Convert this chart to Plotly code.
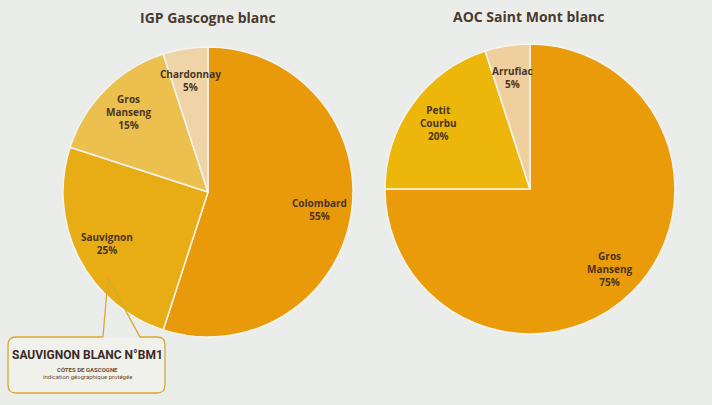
import math
import plotly.graph_objects as go

W, H = 712, 405

# Data
igp_labels = ["Colombard", "Sauvignon", "Gros<br>Manseng", "Chardonnay"]
igp_values = [55, 25, 15, 5]
igp_colors = ["#E89A0A", "#E8AD14", "#EBC04F", "#EFD4A8"]

aoc_labels = ["Gros<br>Manseng", "Petit<br>Courbu", "Arrufiac"]
aoc_values = [75, 20, 5]
aoc_colors = ["#E99B0A", "#EDB60A", "#F0CF9E"]

titles = ["IGP Gascogne blanc", "AOC Saint Mont blanc"]

def px(x):
    return x / W

def py(y):
    return 1 - y / H

def dom(cx, cy, r):
    return dict(x=[px(cx - r), px(cx + r)], y=[py(cy + r), py(cy - r)])

PIES = [
    dict(labels=igp_labels, values=igp_values, colors=igp_colors, cx=208, cy=192, r=145),
    dict(labels=aoc_labels, values=aoc_values, colors=aoc_colors, cx=530, cy=189, r=145),
]

fig = go.Figure()
annotations = []
label_font = dict(family="Open Sans, Lato, sans-serif", size=10, color="#4A3522", weight="bold")

for p in PIES:
    fig.add_trace(go.Pie(
        labels=p["labels"], values=p["values"], sort=False, direction="clockwise",
        rotation=0, domain=dom(p["cx"], p["cy"], p["r"]),
        marker=dict(colors=p["colors"], line=dict(color="#F4F4F0", width=1.5)),
        textinfo="none", showlegend=False, hoverinfo="label+percent",
    ))
    # inside labels placed along each slice's mid-angle, derived from the values
    total = sum(p["values"])
    cum = 0
    for lab, v in zip(p["labels"], p["values"]):
        mid = (cum + v / 2) / total
        cum += v
        a = 2 * math.pi * mid
        f = 0.78
        x = p["cx"] + f * p["r"] * math.sin(a)
        y = p["cy"] - f * p["r"] * math.cos(a)
        annotations.append(dict(
            text=f"{lab}<br>{round(100 * v / total)}%", x=px(x), y=py(y),
            xref="paper", yref="paper", showarrow=False, xanchor="center", yanchor="middle",
            font=label_font,
        ))

def ann(text, x, y, size, color, family, weight="bold"):
    return dict(text=text, x=px(x), y=py(y), xref="paper", yref="paper", showarrow=False,
                xanchor="center", yanchor="middle",
                font=dict(family=family, size=size, color=color, weight=weight))

annotations += [
    ann(titles[0], 208, 18, 14, "#4A3A30", "Open Sans, Lato, sans-serif"),
    ann(titles[1], 528, 17, 14, "#4A3A30", "Open Sans, Lato, sans-serif"),
    ann("SAUVIGNON BLANC N°BM1", 87, 355, 12, "#3A2A26", "Roboto, sans-serif"),
    ann("CÔTES DE GASCOGNE", 87, 369, 6, "#6B4A30", "Roboto, sans-serif"),
    ann("indication géographique protégée", 87, 376, 6, "#6B4A30", "Roboto, sans-serif", "normal"),
]

def path(cmds):
    out = []
    for c in cmds:
        if isinstance(c, str):
            out.append(c)
        else:
            out.append(f"{px(c[0]):.5f},{py(c[1]):.5f}")
    return " ".join(out)

box_fill = path(["M", (8, 345), "Q", (8, 337), (16, 337), "L", (157, 337), "Q", (165, 337), (165, 345),
                 "L", (165, 385), "Q", (165, 393), (157, 393), "L", (16, 393), "Q", (8, 393), (8, 385), "Z"])
outline = path(["M", (103, 337), "L", (16, 337), "Q", (8, 337), (8, 345), "L", (8, 385),
                "Q", (8, 393), (16, 393), "L", (157, 393), "Q", (165, 393), (165, 385),
                "L", (165, 345), "Q", (165, 337), (157, 337), "L", (140, 337), "L", (108, 278), "L", (103, 337)])

shapes = [
    dict(type="path", xref="paper", yref="paper", path=box_fill, fillcolor="#F1F1EC", line=dict(width=0)),
    dict(type="path", xref="paper", yref="paper", path=outline, fillcolor="rgba(0,0,0,0)",
         line=dict(color="#D8A832", width=1.3)),
]

fig.update_layout(
    width=W, height=H, margin=dict(l=0, r=0, t=0, b=0),
    paper_bgcolor="#EBEDEA", plot_bgcolor="#EBEDEA",
    annotations=annotations, shapes=shapes,
)

fig.write_html("out.html", config={"displayModeBar": False},
               post_script="document.body.style.margin='0';document.body.style.overflow='hidden';")
